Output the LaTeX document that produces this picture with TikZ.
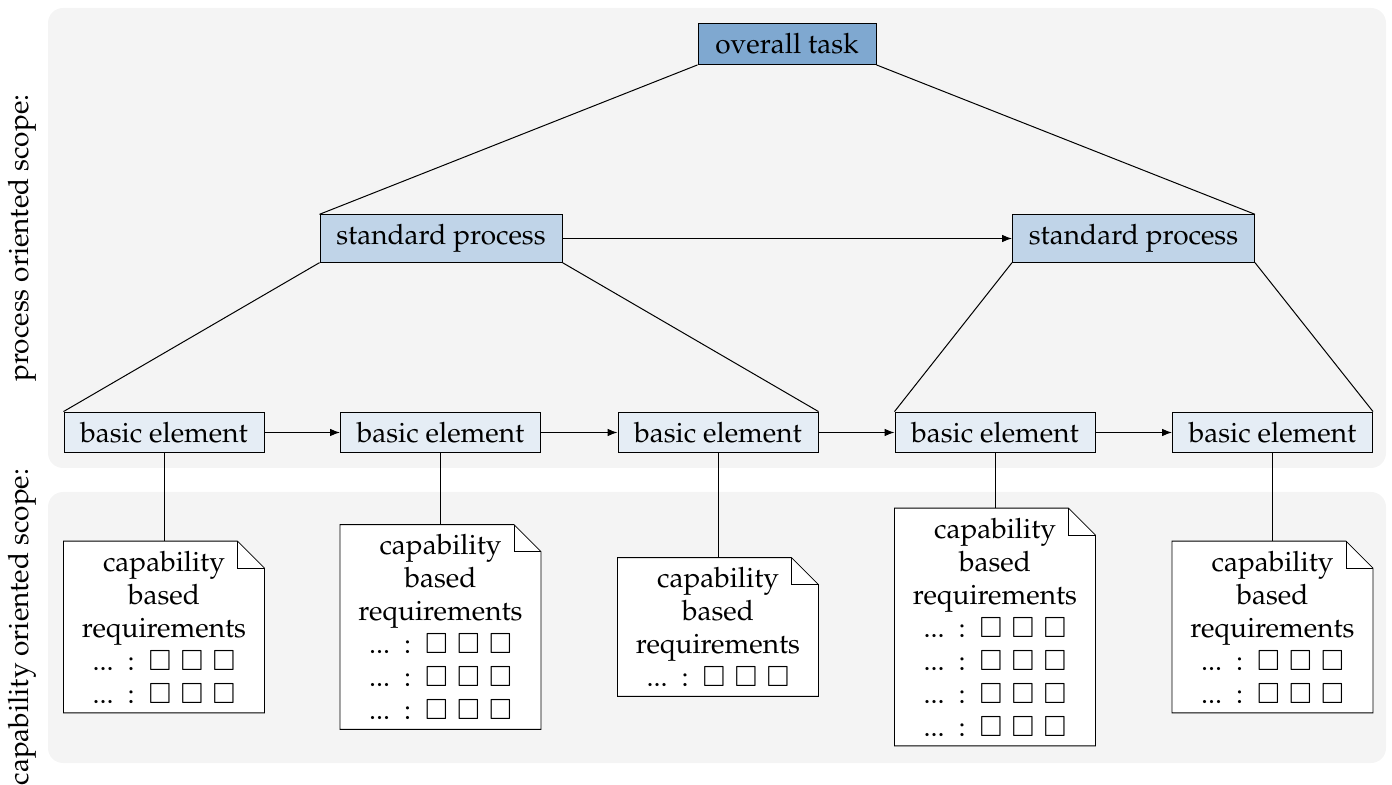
\documentclass[tikz,border=0pt]{standalone}
\usepackage[T1]{fontenc}
\usepackage{mathpazo}
\usepackage{amssymb}
\usetikzlibrary{arrows.meta,backgrounds}
\definecolor{panelgray}{HTML}{F4F4F4}
\definecolor{taskblue}{HTML}{7FA8D0}
\definecolor{procblue}{HTML}{C0D4E8}
\definecolor{elemblue}{HTML}{E5EDF5}
\newcommand\reqrow{... : $\square$ $\square$ $\square$}
\tikzset{
  panel/.style={fill=panelgray, draw=none, rounded corners=7.5pt},
  taskbox/.style={draw, fill=taskblue, minimum width=89pt, inner ysep=5pt},
  procbox/.style={draw, fill=procblue, minimum width=121pt, inner ysep=4.8pt},
  elembox/.style={draw, fill=elemblue, minimum width=100pt, inner ysep=5pt},
  docbox/.style={align=center, text width=100pt, inner xsep=0pt, inner ysep=4.6pt},
  docline/.style={draw, fill=white},
  flow/.style={-{Latex[length=5pt,width=3.8pt]}},
  scopelabel/.style={rotate=90, anchor=center},
}
\begin{document}
\begin{tikzpicture}[x=0.5pt,y=-0.5pt, line width=0.5pt, font=\fontsize{14}{16.5}\selectfont]
\useasboundingbox (0,0) rectangle (1392,785);
% panels
\begin{scope}[on background layer]
\path[panel] (48,8) rectangle (1386,468);
\path[panel] (48,492) rectangle (1386,763);
\end{scope}
% scope labels
\node[scopelabel] (lp) at (22,238) {process oriented scope:};
\node[scopelabel] (lc) at (22,627) {capability oriented scope:};
% process nodes
\node[taskbox] (ot) at (787,44) {overall task};
\node[procbox] (sp1) at (441,238.5) {standard process};
\node[procbox] (sp2) at (1133.5,238.5) {standard process};
\node[elembox] (be1) at (164,432.5) {basic element};
\node[elembox] (be2) at (440.5,432.5) {basic element};
\node[elembox] (be3) at (718,432.5) {basic element};
\node[elembox] (be4) at (995,432.5) {basic element};
\node[elembox] (be5) at (1272.5,432.5) {basic element};
% documents
\node[docbox] (d1) at (164,627) {capability\\based\\requirements\\\reqrow\\\reqrow};
\node[docbox] (d2) at (440.5,627) {capability\\based\\requirements\\\reqrow\\\reqrow\\\reqrow};
\node[docbox] (d3) at (718,627) {capability\\based\\requirements\\\reqrow};
\node[docbox] (d4) at (995,627) {capability\\based\\requirements\\\reqrow\\\reqrow\\\reqrow\\\reqrow};
\node[docbox] (d5) at (1272.5,627) {capability\\based\\requirements\\\reqrow\\\reqrow};
\begin{scope}[on background layer]
\foreach \d in {d1,d2,d3,d4,d5} {
  \draw[docline] (\d.south west) -- (\d.north west) -- ([xshift=-13.5pt]\d.north east)
     -- ([yshift=-13.5pt]\d.north east) -- (\d.south east) -- cycle;
  \draw ([xshift=-13.5pt]\d.north east) |- ([yshift=-13.5pt]\d.north east);
}
\end{scope}
% hierarchy lines
\draw (ot.south west) -- (sp1.north west);
\draw (ot.south east) -- (sp2.north east);
\draw (sp1.south west) -- (be1.north west);
\draw (sp1.south east) -- (be3.north east);
\draw (sp2.south west) -- (be4.north west);
\draw (sp2.south east) -- (be5.north east);
% flow arrows
\draw[flow] (sp1) -- (sp2);
\draw[flow] (be1) -- (be2);
\draw[flow] (be2) -- (be3);
\draw[flow] (be3) -- (be4);
\draw[flow] (be4) -- (be5);
% element to document
\draw (be1.south) -- (d1.north);
\draw (be2.south) -- (d2.north);
\draw (be3.south) -- (d3.north);
\draw (be4.south) -- (d4.north);
\draw (be5.south) -- (d5.north);
\end{tikzpicture}
\end{document}
